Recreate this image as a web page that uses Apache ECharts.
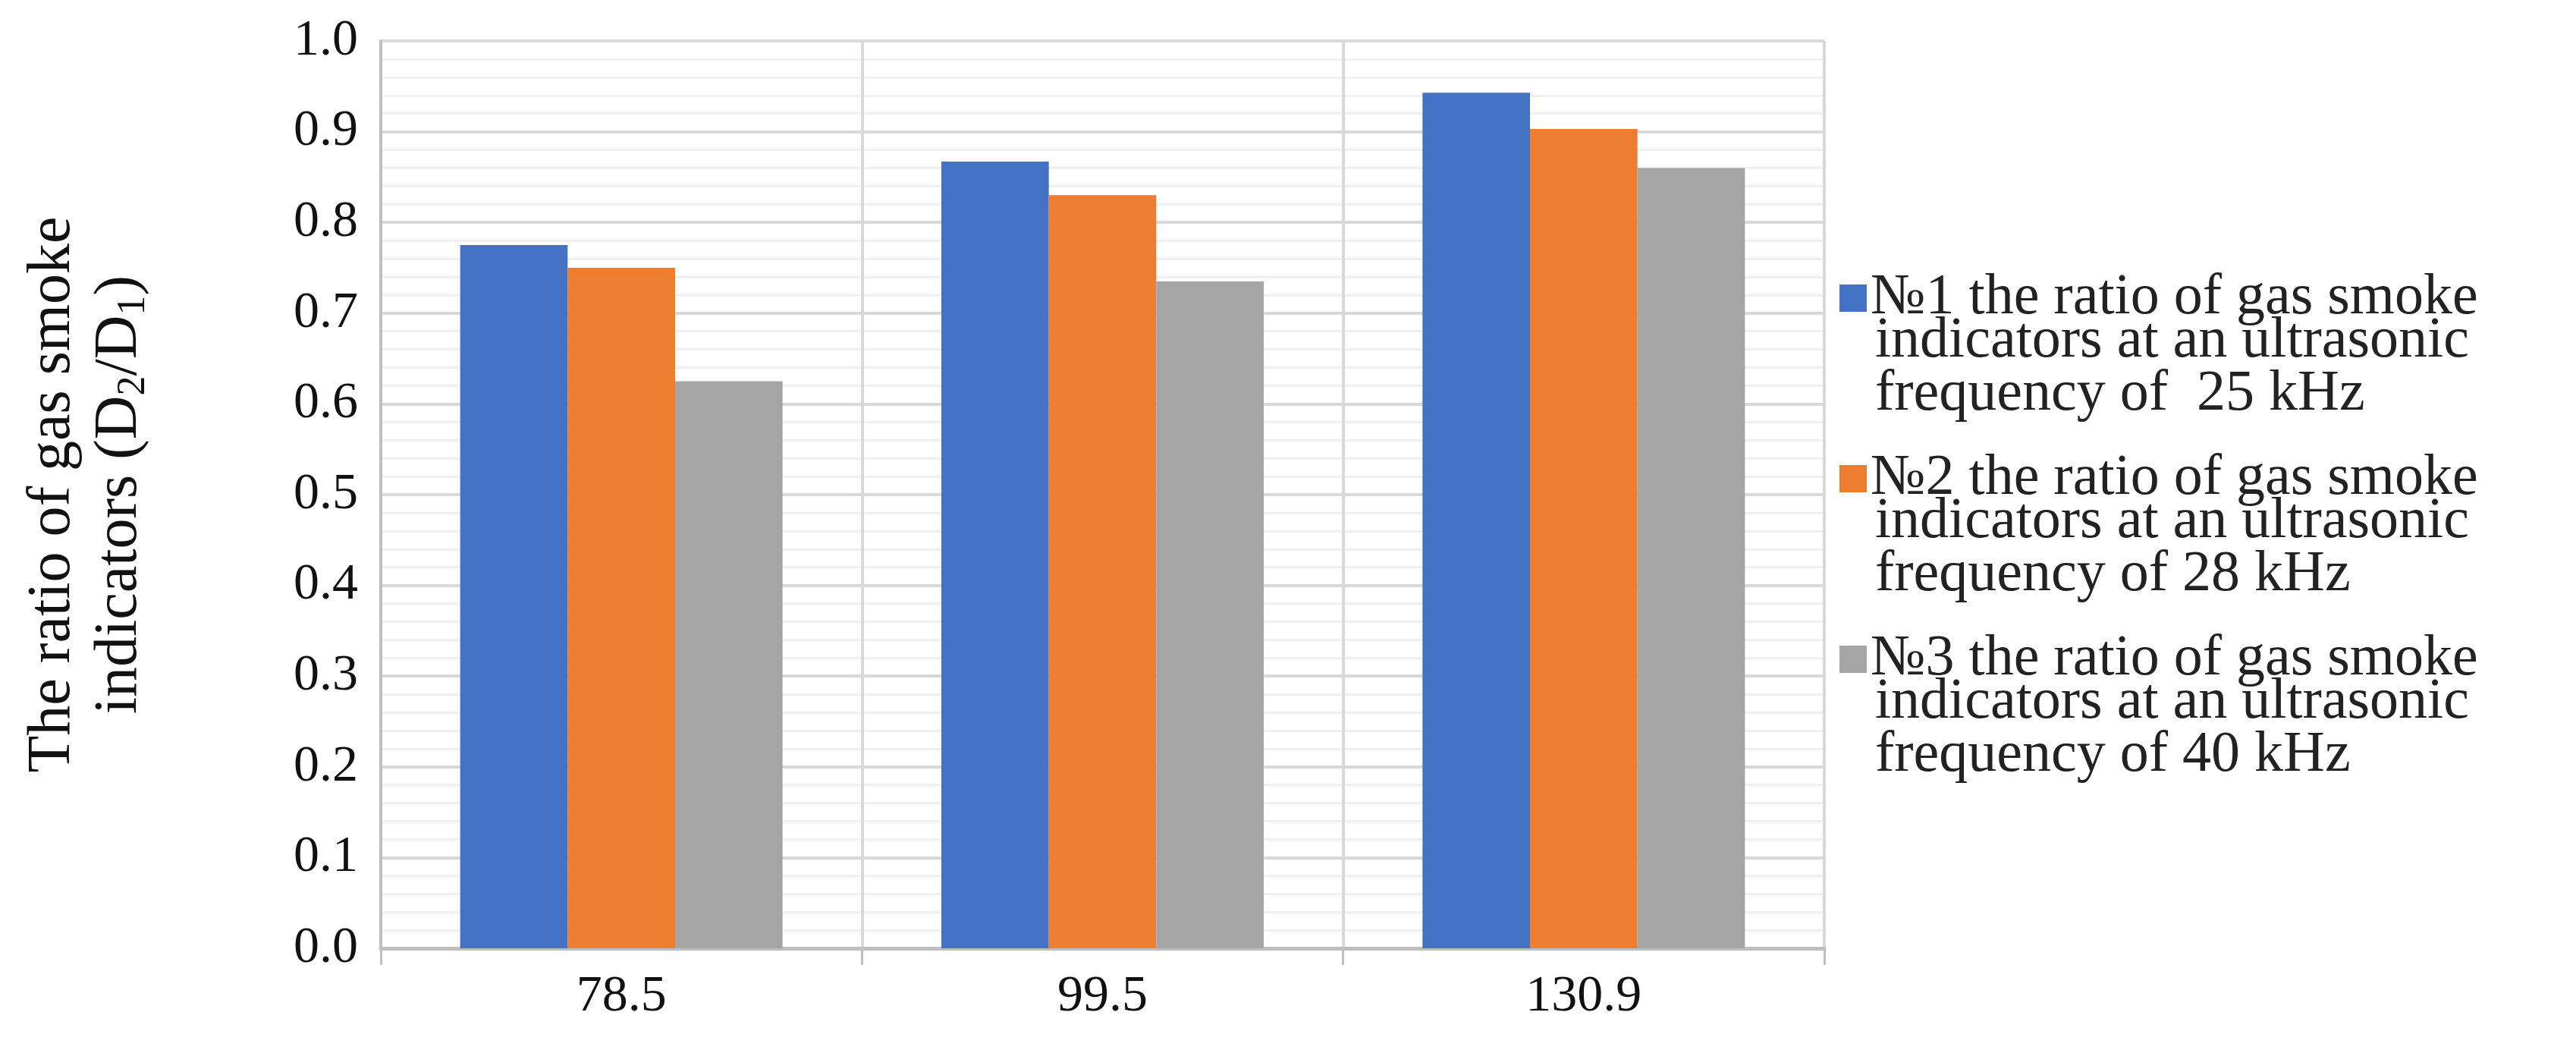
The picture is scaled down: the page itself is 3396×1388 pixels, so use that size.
<!DOCTYPE html>
<html>
<head>
<meta charset="utf-8">
<script src="https://cdn.jsdelivr.net/npm/echarts@6/dist/echarts.min.js"></script>
<style>html,body{margin:0;padding:0;background:#fff;}#chart{width:3396px;height:1388px;}</style>
</head>
<body>
<div id="chart"></div>
<script>
// 频率数据
var categories = ["78.5", "99.5", "130.9"];
var series_names = ["№1 the ratio of gas smoke", "№2 the ratio of gas smoke", "№3 the ratio of gas smoke"];
var legend_more_lines = [
	["indicators at an ultrasonic", "frequency of  25 kHz"],
	["indicators at an ultrasonic", "frequency of 28 kHz"],
	["indicators at an ultrasonic", "frequency of 40 kHz"]
];
var freq_25 = [0.775, 0.867, 0.943];
var freq_28 = [0.750, 0.830, 0.903];
var freq_40 = [0.625, 0.735, 0.860];
var series_colors = ["#4472C4", "#ED7D31", "#A5A5A5"];

var font = "Liberation Serif";
var chart = echarts.init(document.getElementById("chart"));
var values = [freq_25, freq_28, freq_40];
var legend_tops = [350, 588, 826];

var legends = [];
var graphics = [];
for (var i = 0; i < 3; i++) {
	legends.push({
		left: 2420, top: legend_tops[i], orient: "vertical",
		itemWidth: 36, itemHeight: 36, itemGap: 0,
		icon: "rect",
		data: [series_names[i]],
		textStyle: { fontFamily: font, fontSize: 76, color: "#222" }
	});
	for (var j = 0; j < 2; j++) {
		graphics.push({
			type: "text", left: 2472, top: legend_tops[i] + 62 + j * 70,
			style: { text: legend_more_lines[i][j], font: "76px " + font, fill: "#222" }
		});
	}
}

var series = [];
for (var k = 0; k < 3; k++) {
	series.push({
		name: series_names[k], type: "bar", data: values[k],
		itemStyle: { color: series_colors[k] },
		barGap: "0%", barCategoryGap: "33%"
	});
}

var option = {
	animation: false,
	backgroundColor: "#fff",
	grid: { left: 502, right: 3396 - 2405, top: 54, bottom: 1388 - 1250 },
	legend: legends,
	graphic: graphics,
	xAxis: [{
		type: "category", data: categories,
		axisLine: { lineStyle: { color: "#bfbfbf", width: 5 } },
		axisTick: { show: true, length: 22, lineStyle: { color: "#bfbfbf", width: 3 } },
		axisLabel: { fontFamily: font, fontSize: 68, color: "#111", margin: 30 },
		splitLine: { show: true, lineStyle: { color: "#d9d9d9", width: 4 } }
	}, {
		type: "value", min: 0, max: 6, interval: 1, show: false,
		splitLine: { show: true, lineStyle: { color: "#efefef", width: 3 } }
	}],
	yAxis: {
		type: "value", min: 0, max: 1, interval: 0.1,
		axisLine: { show: true, lineStyle: { color: "#bfbfbf", width: 4 } },
		axisTick: { show: false },
		axisLabel: { fontFamily: font, fontSize: 68, color: "#111", margin: 30,
			formatter: function (v) { return v.toFixed(1); } },
		splitLine: { lineStyle: { color: "#d9d9d9", width: 4 } },
		minorTick: { show: false, splitNumber: 5 },
		minorSplitLine: { show: true, lineStyle: { color: "#f0f0f0", width: 3 } },
		name: "The ratio of gas smoke\nindicators (D{s|2}/D{s|1})",
		nameLocation: "middle", nameGap: 300, nameRotate: 90,
		nameTextStyle: { fontFamily: font, fontSize: 80, color: "#111", lineHeight: 88,
			rich: { s: { fontFamily: font, fontSize: 52, verticalAlign: "bottom", padding: [26, 0, 0, 0] } } }
	},
	series: series
};
chart.setOption(option);
</script>
</body>
</html>
